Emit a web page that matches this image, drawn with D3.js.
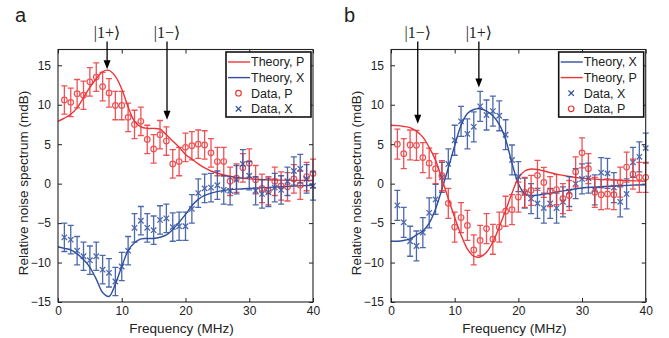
<!DOCTYPE html>
<html>
<head>
<meta charset="utf-8">
<script src="https://cdn.jsdelivr.net/npm/d3@7"></script>
<style>
  body { margin: 0; background: #fff; }
  text { font-family: "Liberation Sans", Arial, Helvetica, sans-serif; fill: #222; }
</style>
</head>
<body>
<svg id="chart" width="669" height="338"></svg>
<script>
// measured frequencies (MHz)
const dataFreq = [1,2,3,4,5,6,7,8,9,10,11,12,13,14,15,16,17,18,19,20,
                  21,22,23,24,25,26,27,28,29,30,31,32,33,34,35,36,37,38,39,40];
// frequencies where the theory curves were sampled
const theoryFreq = [0,1,2,3,4,5,6,7,8,9,10,11,12,13,14,15,16,17,18,19,20,
                    21,22,23,24,26,28,30,35,40];

// panel a
const theoryPa = [7.9,8.3,8.8,9.6,10.9,12.2,13.3,14.2,14.35,13.6,12.0,9.7,7.9,7.2,7.0,7.0,6.9,6.2,5.4,4.6,3.7,
                  3.1,2.5,2.0,1.6,1.1,0.8,0.6,0.45,0.4];
const theoryXa = [-8.0,-8.2,-8.4,-8.9,-9.6,-10.6,-12.1,-13.8,-14.3,-12.7,-10.5,-8.5,-7.5,-7.0,-6.95,-6.95,-6.8,-6.5,-5.8,-4.9,-3.9,
                  -2.8,-2.0,-1.5,-1.2,-0.85,-0.7,-0.6,-0.4,-0.2];
const dataPa = [10.6,10.3,11.4,11.2,12.9,13.5,12.3,11.5,9.9,9.9,8.4,7.5,7.9,5.6,4.4,6.2,5.4,2.5,2.8,4.6,
                4.8,5.0,4.9,3.9,2.8,2.8,0.3,0.7,2.0,2.6,0.5,-0.6,-0.9,0.3,-0.3,-0.4,0.6,-0.2,0.9,1.3];
const dataXa = [-6.8,-7.1,-8.5,-9.2,-9.7,-9.2,-10.9,-11.3,-12.4,-10.5,-8.5,-5.6,-4.7,-5.6,-5.9,-4.6,-4.4,-5.5,-5.4,-5.4,
                -3.2,-1.2,-0.6,-0.5,-0.2,-0.8,-0.9,0.5,2.5,1.0,-0.9,-1.3,-1.1,-0.5,-0.8,0.3,1.6,1.9,0.6,-0.3];

// panel b
const theoryXb = [-7.3,-7.3,-7.2,-7.0,-6.5,-6.0,-5.0,-3.2,-0.7,2.0,4.8,7.4,8.9,9.4,9.5,9.2,8.6,7.5,5.6,2.6,0.0,
                  -1.3,-1.5,-1.45,-1.35,-1.05,-0.8,-0.55,-0.3,-0.15];
const theoryPb = [7.4,7.35,7.25,7.1,6.65,5.9,4.6,2.95,0.6,-1.9,-4.3,-6.5,-8.3,-9.2,-9.3,-8.7,-7.4,-5.5,-3.4,-1.2,0.7,
                  1.6,1.85,1.8,1.6,1.2,0.9,0.7,0.45,0.3];
const dataXb = [-2.75,-4.9,-7.3,-7.9,-6.2,-3.7,-2.0,0.8,2.5,5.5,7.9,6.3,7.2,9.8,8.7,9.2,8.6,6.2,3.0,0.9,
                -1.2,-1.9,-2.5,-3.1,-2.5,-3.1,-2.3,-1.0,0.0,0.6,0.7,-0.8,1.4,1.3,-0.5,-2.3,-1.3,2.7,3.4,4.5];
const dataPb = [5.0,3.8,4.9,4.85,3.3,2.6,1.9,1.0,-2.5,-5.5,-4.3,-5.3,-8.4,-7.2,-5.7,-7.05,-5.5,-3.5,-3.3,-1.7,
                -1.1,-0.85,1.05,0.15,-1.0,-0.75,-1.9,-1.5,1.5,3.9,1.9,-1.1,-1.4,-1.3,-1.4,0.2,2.1,1.2,0.8,0.8];

// error bar half-heights (dB)
const errPa = 1.8, errXa = 1.8, errPb = 1.9, errXb = 1.9;

const xTicks = [0, 10, 20, 30, 40];
const yTicks = [-15, -10, -5, 0, 5, 10, 15];

const kets = {
  a: [{label: "|1+\u27E9", f: 7.7, tip: 14.5}, {label: "|1\u2212\u27E9", f: 17.1, tip: 8.1}],
  b: [{label: "|1\u2212\u27E9", f: 4.2, tip: 7.6}, {label: "|1+\u27E9", f: 13.8, tip: 12.2}]
};

const RED = "#ec3538", BLUE = "#2f4f9f";

const svg = d3.select("#chart");
svg.append("rect").attr("width", 669).attr("height", 338).attr("fill", "#fff");

const panels = [
  {
    name: "a", left: 58, right: 313, nameX: 15,
    theory: [{vals: theoryPa, color: RED, label: "Theory, P"}, {vals: theoryXa, color: BLUE, label: "Theory, X"}],
    data: [{vals: dataPa, err: errPa, color: RED, mark: "o", label: "Data, P"},
           {vals: dataXa, err: errXa, color: BLUE, mark: "x", label: "Data, X"}]
  },
  {
    name: "b", left: 391, right: 645.7, nameX: 344,
    theory: [{vals: theoryXb, color: BLUE, label: "Theory, X"}, {vals: theoryPb, color: RED, label: "Theory, P"}],
    data: [{vals: dataXb, err: errXb, color: BLUE, mark: "x", label: "Data, X"},
           {vals: dataPb, err: errPb, color: RED, mark: "o", label: "Data, P"}]
  }
];

function drawMarker(g, mark, cx, cy, color) {
  if (mark === "o") {
    g.append("circle").attr("cx", cx).attr("cy", cy).attr("r", 2.8)
      .attr("fill", "none").attr("stroke", color).attr("stroke-width", 1.2);
  } else {
    const s = 2.7;
    g.append("path").attr("d", `M${cx - s},${cy - s}L${cx + s},${cy + s}M${cx - s},${cy + s}L${cx + s},${cy - s}`)
      .attr("stroke", color).attr("stroke-width", 1.3).attr("fill", "none");
  }
}

panels.forEach(p => {
  const top = 49.5, bottom = 302;
  const x = d3.scaleLinear().domain([0, 40]).range([p.left, p.right]);
  const y = d3.scaleLinear().domain([-15, 17]).range([bottom, top]);
  const g = svg.append("g");

  // axes, ticks pointing inward on all sides
  const ax = [
    [d3.axisBottom(x).tickValues(xTicks), `translate(0,${bottom})`, true, 4],
    [d3.axisTop(x).tickValues(xTicks), `translate(0,${top})`, false, 0],
    [d3.axisLeft(y).tickValues(yTicks), `translate(${p.left},0)`, true, 7],
    [d3.axisRight(y).tickValues(yTicks), `translate(${p.right},0)`, false, 0]
  ];
  ax.forEach(([axis, tr, labels, pad]) => {
    axis.tickSizeInner(-4).tickSizeOuter(0).tickPadding(pad);
    if (!labels) axis.tickFormat("");
    const a = g.append("g").attr("transform", tr).call(axis);
    a.select(".domain").remove();
    a.selectAll("line").attr("stroke", "#222");
    a.selectAll("text").attr("font-size", 12).attr("fill", "#222")
      .style("font-family", '"Liberation Sans", Arial, sans-serif');
  });

  // theory curves
  const line = d3.line().x((d, i) => x(theoryFreq[i])).y(d => y(d)).curve(d3.curveCatmullRom.alpha(0.5));
  p.theory.forEach(t => {
    g.append("path").attr("d", line(t.vals)).attr("fill", "none")
      .attr("stroke", t.color).attr("stroke-width", 1.4);
  });

  // data with error bars
  p.data.forEach(s => {
    const sg = g.append("g").attr("opacity", 0.85);
    s.vals.forEach((v, i) => {
      const cx = x(dataFreq[i]), y0 = y(v - s.err), y1 = y(v + s.err);
      sg.append("path")
        .attr("d", `M${cx},${y0}V${y1}M${cx - 3},${y0}H${cx + 3}M${cx - 3},${y1}H${cx + 3}`)
        .attr("stroke", s.color).attr("stroke-width", 1.3).attr("fill", "none");
      drawMarker(sg, s.mark, cx, y(v), s.color);
    });
  });

  // frame
  g.append("rect").attr("x", p.left).attr("y", top).attr("width", p.right - p.left).attr("height", bottom - top)
    .attr("fill", "none").attr("stroke", "#222").attr("stroke-width", 1.1);

  // legend
  const lw = 85, lh = 65, lx = p.right - lw - 2, ly = top + 2.5;
  const lg = g.append("g");
  lg.append("rect").attr("x", lx).attr("y", ly).attr("width", lw).attr("height", lh)
    .attr("fill", "#fff").attr("stroke", "#111").attr("stroke-width", 1.6);
  const items = [
    ...p.theory.map(t => ({type: "line", color: t.color, label: t.label})),
    ...p.data.map(s => ({type: s.mark, color: s.color, label: s.label}))
  ];
  items.forEach((it, i) => {
    const cy = ly + 10 + i * 15.6;
    if (it.type === "line") {
      lg.append("line").attr("x1", lx + 2).attr("x2", lx + 24).attr("y1", cy).attr("y2", cy)
        .attr("stroke", it.color).attr("stroke-width", 1.4);
    } else {
      drawMarker(lg, it.type, lx + 12.5, cy, it.color);
    }
    lg.append("text").attr("x", lx + 25).attr("y", cy + 4.3).attr("font-size", 12.5).text(it.label);
  });

  // state annotations with arrows
  kets[p.name].forEach(k => {
    const ax0 = x(k.f), tipY = y(k.tip);
    g.append("text").attr("x", ax0).attr("y", 37.5).attr("text-anchor", "middle")
      .attr("font-size", 16).style("font-family", '"Liberation Serif", "DejaVu Serif", serif')
      .text(k.label);
    g.append("line").attr("x1", ax0).attr("x2", ax0).attr("y1", 41.5).attr("y2", tipY - 8)
      .attr("stroke", "#000").attr("stroke-width", 1.3);
    g.append("path").attr("d", `M${ax0 - 3.5},${tipY - 9}L${ax0 + 3.5},${tipY - 9}L${ax0},${tipY}Z`)
      .attr("fill", "#000");
  });

  // axis titles
  g.append("text").attr("x", (p.left + p.right) / 2 - 4).attr("y", 332.5).attr("text-anchor", "middle")
    .attr("font-size", 13.5).text("Frequency (MHz)");
  g.append("text").attr("transform", `translate(${p.left - 30},183) rotate(-90)`).attr("text-anchor", "middle")
    .attr("font-size", 13.5).text("Relative noise spectrum (mdB)");

  // panel letter
  g.append("text").attr("x", p.nameX).attr("y", 22).attr("font-size", 20).text(p.name);
});
</script>
</body>
</html>
